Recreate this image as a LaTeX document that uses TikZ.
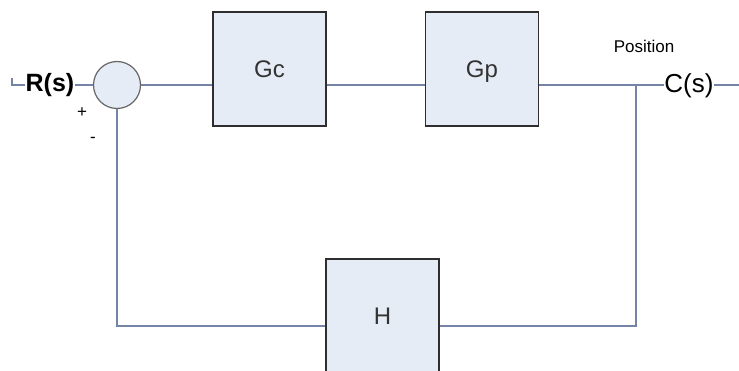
\documentclass[tikz,border=0pt]{standalone}
\usepackage{fontspec}
\setmainfont{Liberation Sans}
\usetikzlibrary{positioning}

\definecolor{wire}{HTML}{7483A6}
\definecolor{boxfill}{HTML}{E6ECF6}
\definecolor{boxline}{HTML}{2E2E2E}

\begin{document}
\begin{tikzpicture}[x=1pt, y=-1pt,
    blk/.style={draw=boxline, line width=1.6pt, fill=boxfill, minimum width=113pt,
      minimum height=114pt, inner sep=0pt, text height=17pt, text depth=0pt,
      font=\fontsize{24}{28}\selectfont, text=black!80},
    sum/.style={circle, draw=black!60, line width=1.2pt, fill=boxfill, minimum size=47pt, inner sep=0pt},
    sig/.style={inner sep=0pt, font=\fontsize{26}{30}\selectfont},
    wire/.style={draw=wire, line width=1.4pt}]
    \useasboundingbox (0,0) rectangle (739,371);
      \node[sum] (s) at (117,85) {};
      \node[blk] (gc) at (269.5,69) {Gc};
      \node[blk] (gp) at (482,69) {Gp};
      \node[blk] (h) at (382.5,316) {H};
      \node[sig, font=\fontsize{25}{30}\bfseries] (r) at (50,85) {R(s)};
      \node[sig] (c) at (689,86) {C(s)};
      \node[inner sep=0pt, font=\fontsize{17}{20}\selectfont] (pos) at (644,46) {Position};
      \node[inner sep=0pt, font=\fontsize{17}{18}\selectfont] (plus) at (82,113) {+};
      \node[inner sep=0pt, font=\fontsize{17}{18}\selectfont] (minus) at (93,140) {-};
      \coordinate (rin) at (12,78);
      \coordinate (k) at (636,85);
      \coordinate (cout) at (739,85);
      \coordinate (fr) at (636,326);
      \coordinate (fl) at (117,326);
      % forward path
      \draw[wire] (rin) |- (r.west);
      \draw[wire] (r.east) -- (s.west);
      \draw[wire] (s.east) -- (s.east -| gc.west);
      \draw[wire] (s.east -| gc.east) -- (s.east -| gp.west);
      \draw[wire] (s.east -| gp.east) -- (c.west |- k);
      \draw[wire] (c.east |- k) -- (cout);
      % feedback
      \draw[wire] (k) -- (fr) -- (fr -| h.east);
      \draw[wire] (fl -| h.west) -- (fl) -- (s.south);
\end{tikzpicture}
\end{document}
